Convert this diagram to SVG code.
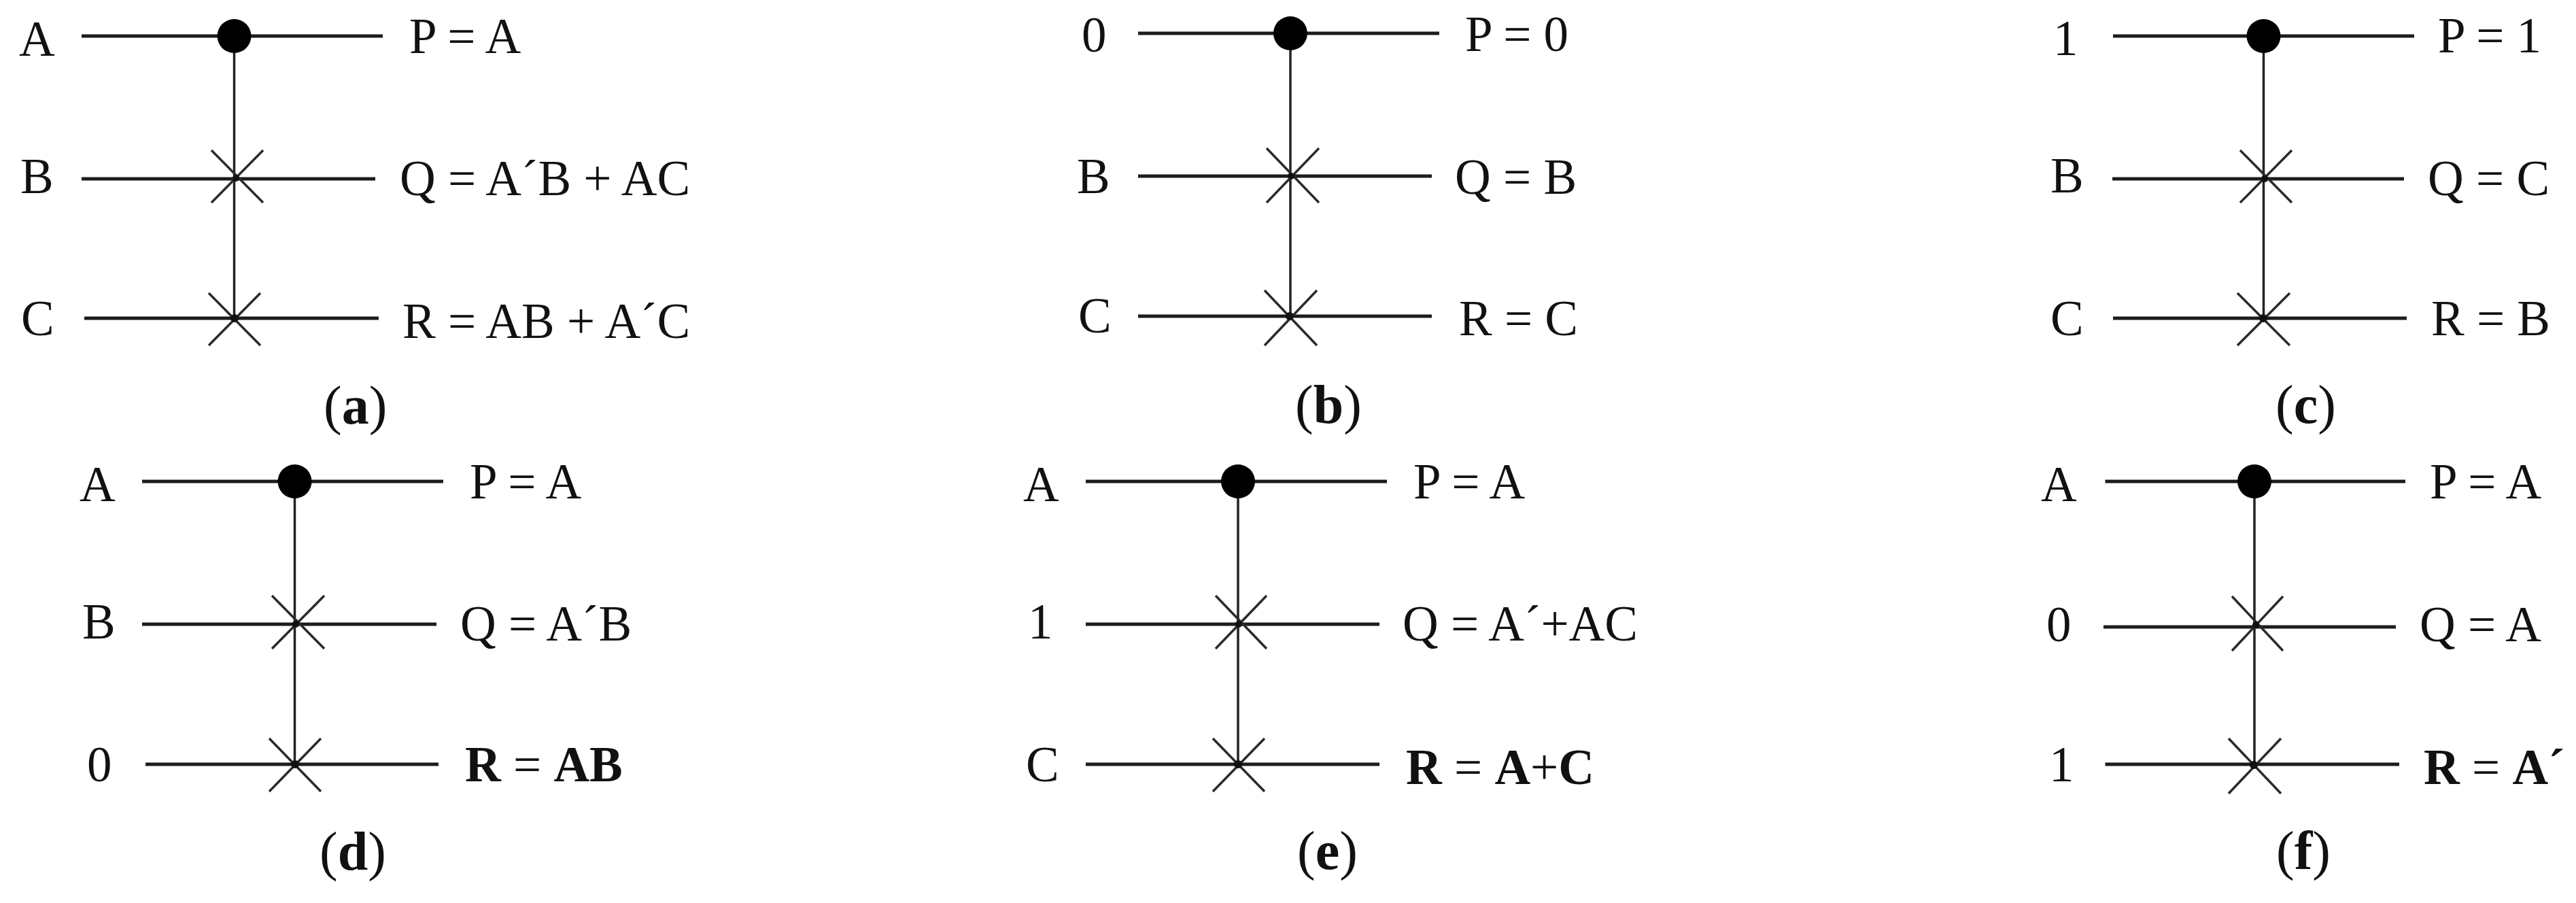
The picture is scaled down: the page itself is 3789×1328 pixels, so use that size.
<svg xmlns="http://www.w3.org/2000/svg" width="3789" height="1328" viewBox="0 0 3789 1328">
<style>
.w{stroke:#1c1c1c;stroke-width:5;fill:none}
.v{stroke:#222;stroke-width:3.5;fill:none}
.x{stroke:#2a2a2a;stroke-width:3.5;fill:none}
.d{fill:#000}
.j{fill:#111}
text{font-family:"Liberation Serif","Times New Roman",serif;font-size:73px;fill:#111}
.b{font-weight:bold}
.c{font-size:80px}
</style>
<rect width="3789" height="1328" fill="#fff"/>
<g id="connectors">
<path class="w" d="M120 53H563M120 263H552M124 468H557"/><path class="v" d="M344.500 53V468"/>
<path class="w" d="M1674 49H2117M1674 259H2106M1674 465H2106"/><path class="v" d="M1898 49V465"/>
<path class="w" d="M3108 53H3551M3107 263H3536M3108 468H3540"/><path class="v" d="M3329.500 53V468"/>
<path class="w" d="M209 708H652M209 918H642M214 1124H645"/><path class="v" d="M433.500 708V1124"/>
<path class="w" d="M1597 708H2040M1597 918H2029M1597 1124H2029"/><path class="v" d="M1821 708V1124"/>
<path class="w" d="M3096.500 708H3538M3094 922H3524M3096.500 1124H3529"/><path class="v" d="M3316 708V1124"/>
</g>
<g id="panel-a">
<g id="a-control"><circle class="d" cx="344.500" cy="53" r="25"/></g>
<g id="a-swap1"><path class="x" d="M311 221L387 298M387 221L311 298"/><circle class="j" cx="347" cy="262" r="5"/></g>
<g id="a-swap2"><path class="x" d="M307 431L383 508M383 431L307 508"/><circle class="j" cx="345" cy="468" r="6"/></g>
<text x="28" y="82">A</text><text x="30" y="284">B</text><text x="31" y="493">C</text>
<text x="602" y="78">P = A</text><text x="588" y="287">Q = A´B + AC</text><text x="592" y="497">R = AB + A´C</text>
<text class="c" x="476" y="623">(<tspan class="b">a</tspan>)</text>
</g>
<g id="panel-b">
<g id="b-control"><circle class="d" cx="1898" cy="49" r="25"/></g>
<g id="b-swap1"><path class="x" d="M1863 218L1940 298M1940 218L1863 298"/><circle class="j" cx="1899" cy="259" r="5"/></g>
<g id="b-swap2"><path class="x" d="M1860 427L1937 508M1937 427L1860 508"/><circle class="j" cx="1897" cy="465" r="6"/></g>
<text x="1591" y="76">0</text><text x="1584" y="284">B</text><text x="1586" y="489">C</text>
<text x="2155" y="75">P = 0</text><text x="2140" y="285">Q = B</text><text x="2146" y="493">R = C</text>
<text class="c" x="1905" y="622">(<tspan class="b">b</tspan>)</text>
</g>
<g id="panel-c">
<g id="c-control"><circle class="d" cx="3329.500" cy="53" r="25"/></g>
<g id="c-swap1"><path class="x" d="M3295 221L3371 298M3371 221L3295 298"/><circle class="j" cx="3331" cy="263" r="5"/></g>
<g id="c-swap2"><path class="x" d="M3291 431L3368 508M3368 431L3291 508"/><circle class="j" cx="3329" cy="468" r="6"/></g>
<text x="3020" y="81">1</text><text x="3016" y="283">B</text><text x="3016" y="493">C</text>
<text x="3586" y="77">P = 1</text><text x="3571" y="287">Q = C</text><text x="3576" y="493">R = B</text>
<text class="c" x="3347" y="622">(<tspan class="b">c</tspan>)</text>
</g>
<g id="panel-d">
<g id="d-control"><circle class="d" cx="433.500" cy="708" r="25"/></g>
<g id="d-swap1"><path class="x" d="M400 876L477 954M477 876L400 954"/><circle class="j" cx="435" cy="918" r="5"/></g>
<g id="d-swap2"><path class="x" d="M396 1086L472 1164M472 1086L396 1164"/><circle class="j" cx="434" cy="1124" r="6"/></g>
<text x="117" y="737">A</text><text x="121" y="939">B</text><text x="128" y="1149">0</text>
<text x="691" y="733">P = A</text><text x="677" y="942">Q = A´B</text><text x="684" y="1149"><tspan class="b">R</tspan> = <tspan class="b">AB</tspan></text>
<text class="c" x="470" y="1279">(<tspan class="b">d</tspan>)</text>
</g>
<g id="panel-e">
<g id="e-control"><circle class="d" cx="1821" cy="708" r="25"/></g>
<g id="e-swap1"><path class="x" d="M1788 876L1863 954M1863 876L1788 954"/><circle class="j" cx="1822" cy="918" r="5"/></g>
<g id="e-swap2"><path class="x" d="M1784 1086L1860 1164M1860 1086L1784 1164"/><circle class="j" cx="1821" cy="1124" r="6"/></g>
<text x="1505" y="737">A</text><text x="1512" y="939">1</text><text x="1509" y="1149">C</text>
<text x="2079" y="733">P = A</text><text x="2063" y="942">Q = A´+AC</text><text x="2068" y="1153"><tspan class="b">R</tspan> = <tspan class="b">A</tspan>+<tspan class="b">C</tspan></text>
<text class="c" x="1908" y="1278">(<tspan class="b">e</tspan>)</text>
</g>
<g id="panel-f">
<g id="f-control"><circle class="d" cx="3316" cy="708" r="25"/></g>
<g id="f-swap1"><path class="x" d="M3283 877L3358 957M3358 877L3283 957"/><circle class="j" cx="3318" cy="919" r="5"/></g>
<g id="f-swap2"><path class="x" d="M3278 1086L3355 1167M3355 1086L3278 1167"/><circle class="j" cx="3315" cy="1125" r="6"/></g>
<text x="3002" y="737">A</text><text x="3010" y="943">0</text><text x="3014" y="1149">1</text>
<text x="3574" y="733">P = A</text><text x="3559" y="943">Q = A</text><text x="3565" y="1153"><tspan class="b">R</tspan> = <tspan class="b">A´</tspan></text>
<text class="c" x="3348" y="1278">(<tspan class="b">f</tspan>)</text>
</g>
</svg>
